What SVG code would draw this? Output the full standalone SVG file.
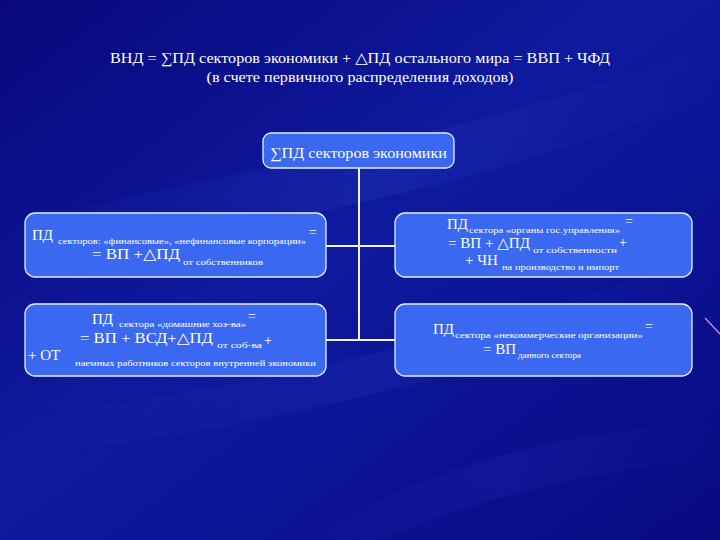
<svg xmlns="http://www.w3.org/2000/svg" width="720" height="540" viewBox="0 0 720 540">
<defs>
<linearGradient id="bg" x1="0" y1="0" x2="1" y2="1">
<stop offset="0" stop-color="#08087c"/>
<stop offset="0.45" stop-color="#0e1a9e"/>
<stop offset="0.7" stop-color="#0b1394"/>
<stop offset="1" stop-color="#080a80"/>
</linearGradient>
<linearGradient id="streak" x1="0" y1="0" x2="1" y2="0">
<stop offset="0" stop-color="#4a6cff" stop-opacity="0"/>
<stop offset="0.5" stop-color="#4a6cff" stop-opacity="0.22"/>
<stop offset="1" stop-color="#4a6cff" stop-opacity="0"/>
</linearGradient>
<style>
.box{fill:#3a68f0;stroke:#e6eeff;stroke-width:1.3}
.t{font-family:"Liberation Serif","DejaVu Serif",serif;fill:#ffffff}
.m{font-size:15px}
.s{font-size:8.5px}
.c{stroke:#f0f4ff;stroke-width:2;fill:none}
</style>
</defs>
<rect width="720" height="540" fill="url(#bg)"/>
<path d="M0,230 C200,170 450,150 720,40 L720,90 C460,200 220,230 0,270 Z" fill="url(#streak)" opacity="0.5"/>
<path d="M0,420 C250,390 500,330 720,250 L720,290 C500,370 260,430 0,460 Z" fill="url(#streak)" opacity="0.4"/>
<path d="M300,540 C420,470 560,430 720,420 L720,460 C570,470 450,510 380,540 Z" fill="url(#streak)" opacity="0.35"/>
<line x1="705" y1="318" x2="720" y2="334" stroke="#d08cf0" stroke-width="1.2"/>

<g id="title">
<text class="t" x="360" y="63" text-anchor="middle" font-size="15" textLength="500" lengthAdjust="spacingAndGlyphs">ВНД = ∑ПД секторов экономики + △ПД остального мира = ВВП + ЧФД</text>
<text class="t" x="360" y="82" text-anchor="middle" font-size="15" textLength="307" lengthAdjust="spacingAndGlyphs">(в счете первичного распределения доходов)</text>
</g>

<g id="connectors">
<path class="c" d="M359,168 V340"/>
<path class="c" d="M326,246 H395"/>
<path class="c" d="M326,340 H395"/>
</g>

<g id="node-total">
<rect class="box" x="263" y="133" width="191" height="35" rx="8"/>
<text class="t m" x="270" y="158" textLength="177" lengthAdjust="spacingAndGlyphs">∑ПД секторов экономики</text>
</g>

<g id="node-corporations">
<rect class="box" x="25" y="213" width="301" height="64" rx="10"/>
<text class="t m" x="32" y="240">ПД</text>
<text class="t s" x="58" y="244" textLength="248" lengthAdjust="spacingAndGlyphs">секторов: «финансовые», «нефинансовые корпорации»</text>
<text class="t" x="309" y="237" font-size="14">=</text>
<text class="t m" x="92" y="259" textLength="88" lengthAdjust="spacingAndGlyphs">= ВП +△ПД</text>
<text class="t s" x="183" y="265" textLength="80" lengthAdjust="spacingAndGlyphs">от собственников</text>
</g>

<g id="node-government">
<rect class="box" x="395" y="213" width="297" height="64" rx="10"/>
<text class="t m" x="447" y="229">ПД</text>
<text class="t s" x="469" y="233" textLength="151" lengthAdjust="spacingAndGlyphs">сектора «органы гос.управления»</text>
<text class="t" x="625" y="226" font-size="14">=</text>
<text class="t m" x="448" y="248" textLength="82" lengthAdjust="spacingAndGlyphs">= ВП + △ПД</text>
<text class="t s" x="533" y="253" textLength="84" lengthAdjust="spacingAndGlyphs">от собственности</text>
<text class="t" x="619" y="247" font-size="14">+</text>
<text class="t m" x="465" y="265">+ ЧН</text>
<text class="t s" x="502" y="270" textLength="117" lengthAdjust="spacingAndGlyphs">на производство и импорт</text>
</g>

<g id="node-households">
<rect class="box" x="25" y="304" width="301" height="72" rx="10"/>
<text class="t m" x="92" y="324">ПД</text>
<text class="t s" x="119" y="327" textLength="127" lengthAdjust="spacingAndGlyphs">сектора «домашние хоз-ва»</text>
<text class="t" x="248" y="321" font-size="14">=</text>
<text class="t m" x="80" y="343" textLength="133" lengthAdjust="spacingAndGlyphs">= ВП + ВСД+△ПД</text>
<text class="t s" x="217" y="348" textLength="45" lengthAdjust="spacingAndGlyphs">от соб-ва</text>
<text class="t" x="264" y="345" font-size="14">+</text>
<text class="t m" x="28" y="360">+ ОТ</text>
<text class="t s" x="75" y="366" textLength="241" lengthAdjust="spacingAndGlyphs">наемных работников секторов внутренней экономики</text>
</g>

<g id="node-nonprofit">
<rect class="box" x="395" y="304" width="297" height="72" rx="10"/>
<text class="t m" x="433" y="334">ПД</text>
<text class="t s" x="455" y="338" textLength="188" lengthAdjust="spacingAndGlyphs">сектора «некоммерческие организации»</text>
<text class="t" x="645" y="331" font-size="14">=</text>
<text class="t m" x="483" y="354">= ВП</text>
<text class="t s" x="518" y="358" textLength="63" lengthAdjust="spacingAndGlyphs">данного сектора</text>
</g>
</svg>
